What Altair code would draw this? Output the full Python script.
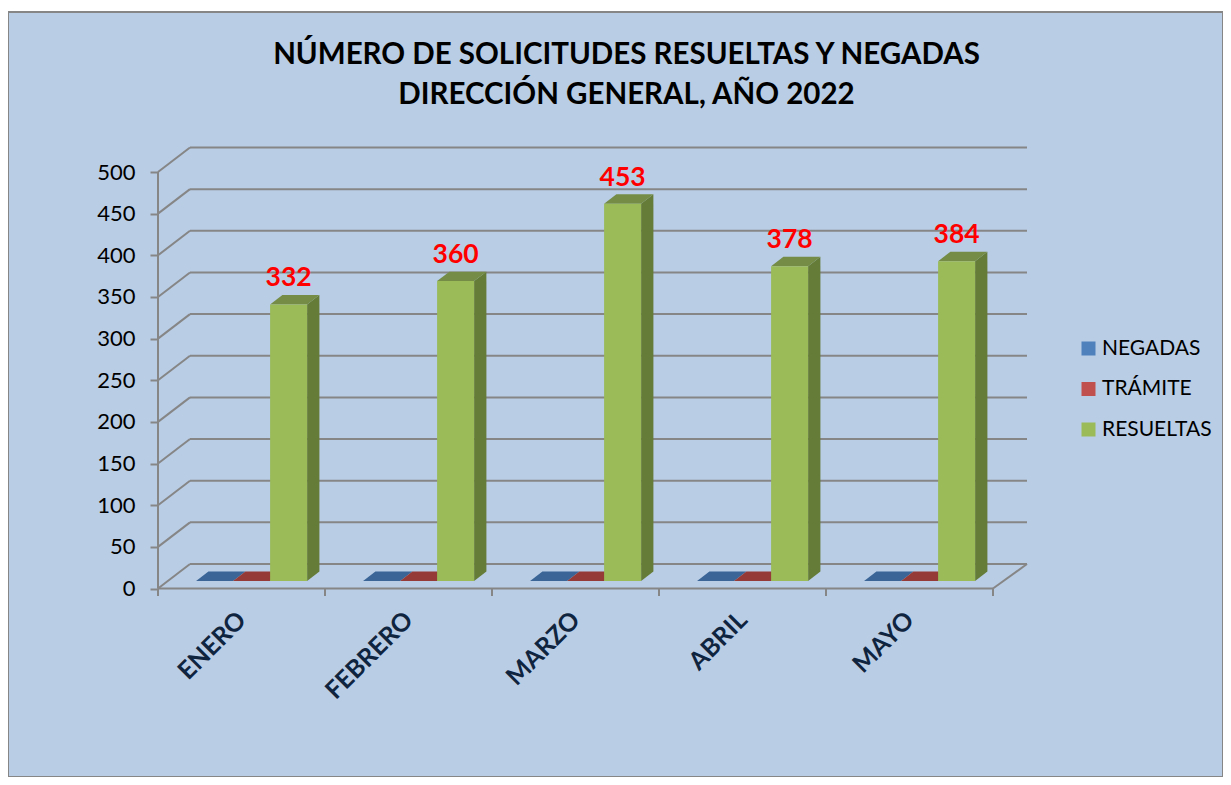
import altair as alt
import pandas as pd

months = ["ENERO", "FEBRERO", "MARZO", "ABRIL", "MAYO"]
negadas = [0, 0, 0, 0, 0]
tramite = [0, 0, 0, 0, 0]
resueltas = [332, 360, 453, 378, 384]
series = ["NEGADAS", "TRÁMITE", "RESUELTAS"]
front_colors = ["#4F81BD", "#C0504D", "#9BBB59"]
top_colors = ["#3A6596", "#953A37", "#748C45"]
side_colors = ["#2F5278", "#7A2F2D", "#657C38"]
y_ticks = [0, 50, 100, 150, 200, 250, 300, 350, 400, 450, 500]
title_lines = ["NÚMERO DE SOLICITUDES RESUELTAS Y NEGADAS", "DIRECCIÓN GENERAL, AÑO 2022"]

FONT = "Lato"
GRID = "#868686"
PANEL = "#B9CDE5"

# Scale set-up: one category = 167 px, one y unit = 0.833 px
PX_X, PX_Y = 167.0, 0.833
W, H = 1215, 765
x_scale = alt.Scale(domain=[(8 - 158) / PX_X, (8 + W - 158) / PX_X], nice=False, zero=False)
y_scale = alt.Scale(domain=[(588.5 - 12 - H) / PX_Y, (588.5 - 12) / PX_Y], nice=False, zero=False)

# 3-D projection constants, in data units
WALL_L, WALL_R, WALL_Y = 32 / PX_X, 34 / PX_X, 24.5 / PX_Y
BAR_START, BAR_W = 38.1 / PX_X, 37.0 / PX_X
BAR_DX, BAR_DY = 12.3 / PX_X, 9.4 / PX_Y
BAR_BASE = 7.5 / PX_Y

x_axis = alt.Axis(
    values=[i + 0.5 for i in range(len(months))],
    labelExpr="[" + ",".join(f"'{m}'" for m in months) + "][floor(datum.value)]",
    orient="bottom", offset=-(12 + H - 588.5), domain=False, ticks=False, grid=False, title=None,
    labelAngle=-45, labelAlign="right", labelBaseline="middle", labelPadding=27,
    labelFont=FONT, labelFontSize=25, labelFontWeight="bold", labelColor="#0F243E",
    labelOverlap=False, labelBound=False, labelFlush=False)
y_axis = alt.Axis(
    values=y_ticks, orient="left", offset=-150, domain=False, grid=False, title=None,
    tickSize=8, tickColor=GRID, tickWidth=2, labelPadding=15,
    labelFont=FONT, labelFontSize=22, labelColor="#000000", labelOverlap=False)


def X(f="x"):
    return alt.X(f"{f}:Q", scale=x_scale, axis=x_axis)


def Y(f="y"):
    return alt.Y(f"{f}:Q", scale=y_scale, axis=y_axis)


grid_style = dict(color=GRID, strokeWidth=2)

# Back-wall grid lines
walls = pd.DataFrame({"x": WALL_L, "x2": 5 + WALL_R, "y": [v + WALL_Y for v in y_ticks]})
back = alt.Chart(walls).mark_rule(**grid_style).encode(x=X(), x2="x2:Q", y=Y())

# Diagonals on the side wall and floor
diag_rows = []
for v in y_ticks:
    diag_rows += [{"k": f"l{v}", "x": 0, "y": v}, {"k": f"l{v}", "x": WALL_L, "y": v + WALL_Y}]
diag_rows += [{"k": "r", "x": 5, "y": 0}, {"k": "r", "x": 5 + WALL_R, "y": WALL_Y}]
diagonals = alt.Chart(pd.DataFrame(diag_rows)).mark_line(**grid_style).encode(
    x=X(), y=Y(), detail="k:N")

# Front axis lines and ticks
front_x = alt.Chart(pd.DataFrame({"x": [0], "x2": [5], "y": [0]})).mark_rule(**grid_style).encode(
    x=X(), x2="x2:Q", y=Y())
front_y = alt.Chart(pd.DataFrame({"x": [0], "y": [0], "y2": [500]})).mark_rule(**grid_style).encode(
    x=X(), y=Y(), y2="y2:Q")
x_ticks = alt.Chart(pd.DataFrame({"x": list(range(len(months) + 1)), "y": 0, "y2": -9})).mark_rule(**grid_style).encode(
    x=X(), y=Y(), y2="y2:Q")

# Bars
rows, tops, sides = [], [], []
for s_i, (name, vals) in enumerate(zip(series, [negadas, tramite, resueltas])):
    for m_i, (month, v) in enumerate(zip(months, vals)):
        xl = m_i + BAR_START + s_i * BAR_W
        xr = xl + BAR_W
        y0, y1 = BAR_BASE, BAR_BASE + v
        key = f"{s_i}-{m_i}"
        rows.append({"serie": name, "x": xl, "x2": xr, "y": y0, "y2": y1, "value": v})
        for px, lo, hi in [(xl, y1, y1), (xl + BAR_DX, y1, y1 + BAR_DY),
                           (xr, y1, y1 + BAR_DY), (xr + BAR_DX, y1 + BAR_DY, y1 + BAR_DY)]:
            tops.append({"serie": name, "k": key, "x": px, "y": lo, "y2": hi})
        for px, lo, hi in [(xr, y0, y1), (xr + BAR_DX, y0 + BAR_DY, y1 + BAR_DY)]:
            sides.append({"serie": name, "k": key, "x": px, "y": lo, "y2": hi})
bars = pd.DataFrame(rows)
tops = pd.DataFrame(tops)
sides = pd.DataFrame(sides)

layers = [back, diagonals, front_x, front_y, x_ticks]
for name, tc, sc in zip(series, top_colors, side_colors):
    layers.append(alt.Chart(sides[sides.serie == name]).mark_area(color=sc, orient="vertical").encode(
        x=X(), y=Y(), y2="y2:Q", detail="k:N"))
    layers.append(alt.Chart(tops[tops.serie == name]).mark_area(color=tc, orient="vertical").encode(
        x=X(), y=Y(), y2="y2:Q", detail="k:N"))
    layers.append(alt.Chart(bars[bars.serie == name]).mark_rect().encode(
        x=X(), x2="x2:Q", y=Y(), y2="y2:Q",
        color=alt.Color("serie:N", scale=alt.Scale(domain=series, range=front_colors),
                        legend=alt.Legend(
                            orient="none", legendX=1070, legendY=326, title=None,
                            symbolType="square", symbolSize=196, symbolStrokeWidth=0,
                            labelFont=FONT, labelFontSize=21, labelColor="#000000",
                            labelOffset=3, rowPadding=18.5))))

labels = bars[bars.value > 0].assign(xc=lambda d: (d.x + d.x2) / 2)
layers.append(alt.Chart(labels).mark_text(
    font=FONT, fontSize=26.5, fontWeight="bold", color="#FF0000", baseline="bottom", dy=-12).encode(
    x=X("xc"), y=Y("y2"), text="value:Q"))

chart = alt.layer(*layers).properties(
    width=W, height=H,
    padding={"left": 0, "top": 4, "right": 0, "bottom": 0},
    autosize=alt.AutoSizeParams(type="none"),
    background="#FFFFFF",
    title=alt.TitleParams(
        text=title_lines, font=FONT, fontSize=29.5, fontWeight="bold", color="#000000",
        anchor="middle", dx=11, offset=-98, lineHeight=40),
).configure_view(fill=PANEL, stroke=GRID, strokeWidth=2)

chart.save("out.html", embed_options={"renderer": "svg", "actions": False})
